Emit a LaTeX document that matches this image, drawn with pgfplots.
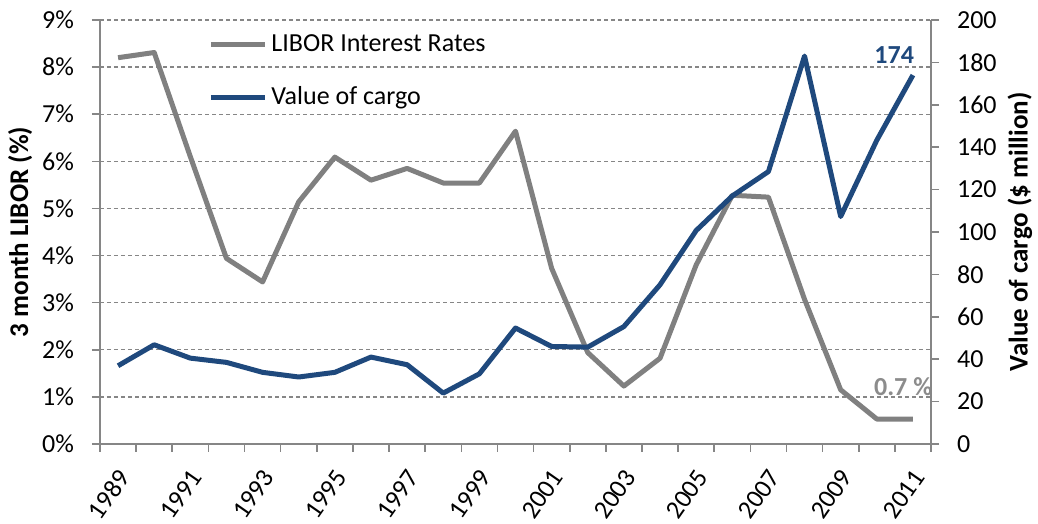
\documentclass[border=0pt]{standalone}
\usepackage{fontspec}
\setmainfont{Carlito}
\usepackage{pgfplots}
\usepackage{pgfplotstable}
\pgfplotsset{compat=1.18}
\pgfplotsset{/pgf/number format/assume math mode=true}

\definecolor{libor}{RGB}{128,128,128}
\definecolor{cargo}{RGB}{31,73,125}
\definecolor{axgray}{RGB}{134,134,134}
\definecolor{lbl}{RGB}{140,140,140}

\pgfplotstableread{
x year libor cargo
0  1989 8.20 36.9
1  1990 8.31 46.8
2  1991 6.10 40.5
3  1992 3.94 38.5
4  1993 3.44 33.8
5  1994 5.14 31.6
6  1995 6.09 33.8
7  1996 5.60 41.0
8  1997 5.85 37.4
9  1998 5.54 24.0
10 1999 5.54 33.1
11 2000 6.64 54.7
12 2001 3.73 46.0
13 2002 1.94 45.7
14 2003 1.23 55.4
15 2004 1.82 75.1
16 2005 3.80 100.7
17 2006 5.28 117.0
18 2007 5.24 128.5
19 2008 3.07 183.0
20 2009 1.15 107.3
21 2010 0.53 143.3
22 2011 0.53 174.0
}\data

\pgfplotsset{
  common/.style={
    at={(0,0)}, anchor=south west,
    scale only axis, width=415.5pt, height=212pt,
    xmin=-0.5, xmax=22.5,
    clip=false,
    axis line style={axgray, line width=0.8pt},
    tick style={axgray, line width=0.8pt},
    tick align=outside,
    major tick length=4pt,
    tick label style={font=\fontsize{13}{15}\selectfont, text=black},
    label style={font=\fontsize{13.5}{15}\selectfont\bfseries},
  }
}

\begin{document}
\begin{tikzpicture}
\begin{axis}[
  common,
  ymin=0, ymax=9,
  axis x line*=bottom, axis y line*=left,
  ytick={0,1,...,9},
  yticklabel={\pgfmathprintnumber{\tick}\%},
  yticklabel style={xshift=-5.5pt},
  ytick pos=left,
  xtick={-0.5,0.5,...,22.5},
  xticklabels={},
  xtick pos=bottom,
  extra x ticks={0,2,...,22},
  extra x tick labels={1989,1991,1993,1995,1997,1999,2001,2003,2005,2007,2009,2011},
  extra x tick style={major tick length=0pt, xticklabel style={xshift=5pt, yshift=-11.5pt, rotate=55, anchor=east}},
  ymajorgrids,
  grid style={axgray, line width=0.7pt, dash pattern=on 2.2pt off 1.3pt},
  ylabel={3 month LIBOR (\%)},
  ylabel style={at={(axis description cs:-0.096,0.5)}, anchor=center, rotate=0},
  legend style={at={(axis description cs:0.130,0.975)}, anchor=north west, draw=none, fill=none,
    font=\fontsize{13}{15}\selectfont, row sep=12pt, inner sep=0pt},
  legend cell align=left,
  legend image code/.code={\draw[#1] (0pt,0pt) -- (27pt,0pt);},
]
\addplot[libor, line width=2.5pt, line join=round] table[x=x, y=libor] {\data};
\addlegendentry{LIBOR Interest Rates}
\addlegendimage{cargo, line width=2.5pt}
\addlegendentry{Value of cargo}
\node[font=\fontsize{13}{15}\selectfont\bfseries, text=lbl] at (axis cs:21.73,1.22) {0.7 \%};
\end{axis}
\begin{axis}[
  common,
  ymin=0, ymax=200,
  axis x line=none, axis y line*=right,
  ytick={0,20,...,200},
  ytick pos=right,
  yticklabel style={xshift=5.5pt},
  xtick=\empty,
  ylabel={Value of cargo (\$ million)},
  ylabel style={at={(axis description cs:1.107,0.5)}, anchor=center},
]
\addplot[cargo, line width=2.5pt, line join=round] table[x=x, y=cargo] {\data};
\node[font=\fontsize{13}{15}\selectfont\bfseries, text=cargo] at (axis cs:21.48,183.4) {174};
\end{axis}
\pgfresetboundingbox
\path (-50pt,-40pt) rectangle (469pt,222pt);
\end{tikzpicture}
\end{document}
